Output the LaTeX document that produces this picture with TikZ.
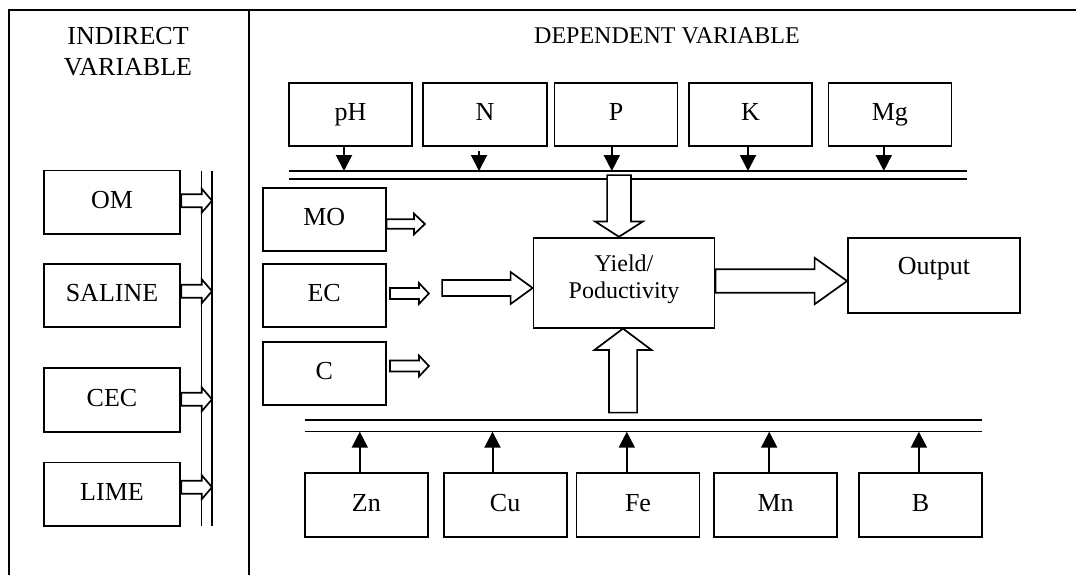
\documentclass[tikz,border=0pt]{standalone}
\usepackage{fontspec}
\setmainfont{Liberation Serif}
\usepackage{tikz}
\usetikzlibrary{shapes}
\usetikzlibrary{calc}
\usetikzlibrary{arrows.meta}

\newcommand{\hollowarrow}[5]{%
	\coordinate (ha) at #1;
	\coordinate (hz) at #2;
	\coordinate (hb) at ($(hz)!#5!(ha)$);
	\draw[blockline] ($(ha)!#3!90:(hz)$) -- ($(hb)!#3!-90:(ha)$) -- ($(hb)!#4!-90:(ha)$) -- (hz) -- ($(hb)!#4!90:(ha)$) -- ($(hb)!#3!90:(ha)$) -- ($(ha)!#3!-90:(hz)$) -- cycle;}

\begin{document}
\begin{tikzpicture}[x=1pt, y=-1pt,
	box/.style={draw, line width=1.8pt, minimum width=123pt, minimum height=63pt, inner sep=0pt, text height=18pt, text depth=6pt, font=\fontsize{26}{30}\selectfont},
	frame/.style={line width=1.8pt},
	rail/.style={line width=1.5pt},
	feed/.style={line width=2pt, -{Triangle[length=16pt,width=16pt]}},
	blockline/.style={fill=white, line width=1.7pt, line join=miter}]
					\useasboundingbox (0,0) rectangle (1076,575);
					\draw[frame] (1076,10) -- (8.6,10) -- (8.6,575);
					\draw[frame] (249,10) -- (249,575);
					\node[align=center, font=\fontsize{26}{31}\selectfont] (indirect) at (128,52) {INDIRECT\\VARIABLE};
					\node[font=\fontsize{24}{28}\selectfont] (dependent) at (667,36) {DEPENDENT VARIABLE};
					\node[box, minimum width=136.7pt, minimum height=63.5pt] (om) at (112,202.2) {OM};
					\node[box, minimum width=136.7pt, minimum height=63.5pt] (saline) at (112,295.5) {SALINE};
					\node[box, minimum width=136.7pt, minimum height=63.5pt] (cec) at (112,400) {CEC};
					\node[box, minimum width=136.7pt, minimum height=63.5pt] (lime) at (112,494.3) {LIME};
					\node[box] (ph) at (350.5,114.7) {pH};
					\node[box, minimum width=124pt] (n) at (485,114.7) {N};
					\node[box] (p) at (616,114.7) {P};
					\node[box] (k) at (750.4,114.7) {K};
					\node[box] (mg) at (889.9,114.7) {Mg};
					\node[box] (mo) at (324.2,219.5) {MO};
					\node[box] (ec) at (324.2,295.5) {EC};
					\node[box] (c) at (324.2,373.2) {C};
					\node[box, minimum height=63.7pt] (zn) at (366.4,505.2) {Zn};
					\node[box, minimum height=63.7pt] (cu) at (505.1,505.2) {Cu};
					\node[box, minimum height=63.7pt] (fe) at (638,505.2) {Fe};
					\node[box, minimum height=63.7pt] (mn) at (775.6,505.2) {Mn};
					\node[box, minimum height=63.7pt] (b) at (920.5,505.2) {B};
					\node[box, minimum width=181pt, minimum height=90pt, align=center, text height=, text depth=12pt, font=\fontsize{24}{27.3}\selectfont] (yield) at (624,282.7) {Yield/\\Poductivity};
					\node[box, minimum width=172pt, minimum height=75.6pt, text depth=20pt] (output) at (934,275.5) {Output};
					\coordinate (railL) at (201.7,171);\coordinate (railR) at (212,171);
					\coordinate (topa) at (289,171);\coordinate (topb) at (289,179);
					\coordinate (bota) at (304.8,420);\coordinate (botb) at (304.8,431.7);
					\draw[rail] (railL) -- ++(0,355);\draw[rail] (railR) -- ++(0,355);
					\draw[rail] (topa) -- ++(677.6,0);\draw[rail] (topb) -- ++(677.6,0);
					\draw[rail] (bota) -- ++(677.2,0);\draw[rail] (botb) -- ++(677.2,0);
					\draw[feed] ([xshift=-6.5pt]ph.south) -- ([xshift=-6.5pt]ph.south |- topa);\draw[feed] ([xshift=-6pt,yshift=-4pt]n.south) -- ([xshift=-6pt]n.south |- topa);\draw[feed] ([xshift=-4.2pt]p.south) -- ([xshift=-4.2pt]p.south |- topa);\draw[feed] ([xshift=-2.4pt]k.south) -- ([xshift=-2.4pt]k.south |- topa);\draw[feed] ([xshift=-6.1pt]mg.south) -- ([xshift=-6.1pt]mg.south |- topa);
					\draw[feed] ([xshift=-6.6pt]zn.north) -- ([xshift=-6.6pt]zn.north |- botb);\draw[feed] ([xshift=-12.6pt]cu.north) -- ([xshift=-12.6pt]cu.north |- botb);\draw[feed] ([xshift=-11.2pt]fe.north) -- ([xshift=-11.2pt]fe.north |- botb);\draw[feed] ([xshift=-6.4pt]mn.north) -- ([xshift=-6.4pt]mn.north |- botb);\draw[feed] ([xshift=-1.6pt]b.north) -- ([xshift=-1.6pt]b.north |- botb);
					\hollowarrow{([yshift=1.5pt]om.east)}{([yshift=1.5pt]om.east -| railR)}{6.5pt}{12pt}{10.3pt}
					\hollowarrow{([yshift=4.3pt]saline.east)}{([yshift=4.3pt]saline.east -| railR)}{6.5pt}{12pt}{10.3pt}
					\hollowarrow{([yshift=0.7pt]cec.east)}{([yshift=0.7pt]cec.east -| railR)}{6.5pt}{12pt}{10.3pt}
					\hollowarrow{([yshift=7.1pt]lime.east)}{([yshift=7.1pt]lime.east -| railR)}{6.5pt}{12pt}{10.3pt}
					\hollowarrow{([yshift=-4.5pt]mo.east)}{([yshift=-4.5pt,xshift=38.3pt]mo.east)}{4.7pt}{10.5pt}{11pt}
					\hollowarrow{([yshift=2pt,xshift=3.3pt]ec.east)}{([yshift=2pt,xshift=42.3pt]ec.east)}{5.5pt}{10.5pt}{10pt}
					\hollowarrow{([yshift=7.2pt,xshift=3.3pt]c.east)}{([yshift=7.2pt,xshift=42.3pt]c.east)}{5.5pt}{10.5pt}{10pt}
					\hollowarrow{([yshift=-5.3pt,xshift=-90.5pt]yield.west)}{([yshift=-5.3pt]yield.west)}{8pt}{16pt}{22pt}
					\hollowarrow{([xshift=-5pt,yshift=61.7pt]yield.north)}{([xshift=-5pt]yield.north)}{11.9pt}{24pt}{15.4pt}
					\hollowarrow{([xshift=-1pt,yshift=-84pt]yield.south)}{([xshift=-1pt]yield.south)}{14.1pt}{28.4pt}{21.3pt}
					\hollowarrow{([yshift=1.7pt]yield.east)}{([yshift=1.7pt]yield.east -| output.west)}{11.7pt}{23.2pt}{32.5pt}
\end{tikzpicture}
\end{document}
